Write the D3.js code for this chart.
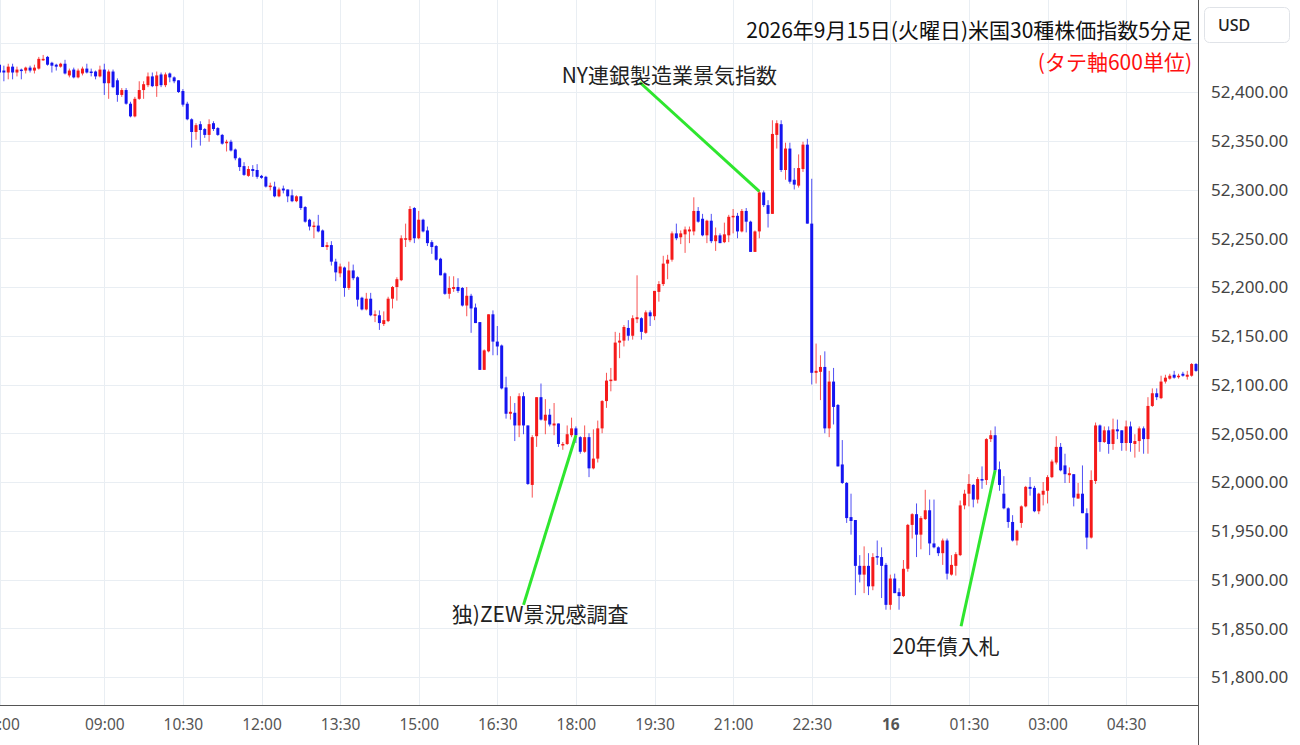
<!DOCTYPE html>
<html><head><meta charset="utf-8">
<script src="https://cdn.jsdelivr.net/npm/d3@7"></script>
<style>body{margin:0;background:#fff;} svg{display:block;}</style>
</head><body>
<svg id="c" width="1300" height="745"></svg>
<script>
// ---- data ----
const startTime = "2026-09-15T07:00:00";
const barMinutes = 5;
const opens = [52428,52422,52420,52426,52420,52423,52422,52425,52422,52424,52433,52436,52430,52428,52426,52429,52417,52423,52415,52419,52424,52421,52421,52416,52423,52409,52421,52412,52397,52402,52388,52375,52393,52402,52407,52416,52406,52418,52407,52419,52415,52412,52401,52388,52372,52359,52367,52362,52356,52368,52363,52356,52348,52349,52341,52332,52324,52314,52321,52320,52314,52313,52303,52303,52293,52301,52300,52294,52288,52293,52282,52269,52262,52263,52258,52241,52243,52226,52214,52220,52199,52217,52210,52189,52177,52188,52171,52171,52162,52165,52188,52200,52207,52249,52248,52281,52250,52269,52258,52246,52242,52229,52214,52193,52198,52200,52199,52181,52191,52179,52164,52115,52134,52172,52144,52140,52097,52070,52071,52058,52088,52058,51997,52047,52087,52063,52069,52058,52060,52038,52039,52048,52055,52046,52031,52046,52014,52024,52055,52083,52104,52104,52143,52145,52158,52150,52167,52168,52153,52174,52170,52195,52203,52224,52228,52255,52251,52254,52257,52257,52278,52270,52253,52268,52247,52253,52246,52253,52272,52273,52257,52278,52267,52236,52257,52297,52284,52275,52356,52367,52320,52342,52310,52304,52321,52346,52265,52112,52113,52118,52055,52103,52079,52018,51999,51964,51961,51914,51905,51914,51893,51924,51923,51915,51874,51901,51887,51883,51911,51956,51967,51946,51962,51971,51937,51933,51927,51940,51905,51914,51925,51976,51988,51997,51982,52003,52002,52044,52048,52013,51988,51973,51959,51940,51958,51975,51995,51994,51970,51987,51991,52005,52020,52036,52017,52007,52008,51983,51988,51968,51943,52001,52058,52041,52053,52039,52054,52053,52040,52057,52039,52042,52055,52044,52078,52091,52086,52103,52106,52110,52108,52111,52108,52109,52121];
const highs = [52440,52427,52429,52429,52426,52424,52426,52427,52428,52436,52438,52437,52431,52429,52430,52433,52424,52425,52424,52426,52429,52424,52422,52427,52429,52423,52423,52414,52404,52404,52390,52395,52411,52411,52420,52420,52421,52420,52420,52420,52416,52412,52403,52390,52373,52368,52370,52363,52372,52370,52364,52357,52351,52351,52342,52333,52328,52324,52325,52326,52315,52314,52307,52308,52302,52304,52300,52300,52294,52293,52283,52270,52267,52274,52259,52246,52247,52229,52224,52221,52226,52223,52211,52190,52194,52194,52176,52176,52175,52190,52201,52210,52253,52265,52283,52282,52278,52270,52262,52248,52243,52230,52215,52211,52211,52209,52200,52200,52193,52183,52164,52136,52172,52176,52160,52141,52108,52088,52081,52091,52092,52058,52048,52087,52101,52085,52075,52081,52060,52041,52058,52066,52057,52047,52058,52050,52054,52063,52084,52112,52117,52154,52153,52161,52166,52171,52212,52169,52176,52176,52196,52206,52232,52233,52257,52265,52258,52262,52262,52292,52282,52275,52269,52275,52261,52255,52266,52274,52280,52276,52280,52281,52268,52258,52299,52299,52289,52371,52371,52371,52348,52348,52322,52336,52349,52352,52311,52142,52130,52134,52114,52117,52080,52043,52000,51988,51961,51925,51934,51927,51927,51940,51933,51917,51905,51906,51891,51920,51957,51968,51978,51965,51992,51982,51982,51934,51942,51942,51925,51928,51981,51992,52008,51998,52005,52016,52045,52053,52057,52021,52006,51974,51966,51951,51976,51996,52005,51996,51989,52000,52007,52023,52047,52040,52029,52015,52008,51999,52017,51973,52012,52061,52059,52057,52057,52065,52064,52053,52063,52062,52049,52057,52057,52087,52096,52096,52109,52110,52111,52114,52111,52113,52114,52122,52122];
const lows = [52415,52411,52413,52413,52416,52413,52419,52420,52419,52423,52432,52427,52420,52422,52425,52418,52415,52414,52414,52417,52419,52416,52413,52415,52397,52393,52404,52390,52395,52387,52374,52374,52392,52393,52405,52405,52395,52405,52405,52410,52409,52399,52385,52371,52343,52351,52345,52353,52349,52360,52355,52346,52339,52339,52330,52319,52314,52313,52313,52311,52311,52302,52299,52292,52292,52296,52287,52287,52287,52279,52266,52258,52250,52256,52241,52238,52222,52206,52210,52190,52197,52207,52180,52176,52176,52170,52164,52156,52160,52164,52178,52186,52206,52241,52246,52245,52249,52256,52242,52234,52227,52212,52192,52188,52195,52194,52180,52170,52153,52163,52115,52115,52133,52130,52130,52095,52065,52064,52042,52046,52049,51997,51984,52036,52063,52049,52057,52048,52036,52033,52038,52046,52040,52029,52030,52005,52013,52020,52050,52076,52093,52104,52127,52139,52145,52146,52163,52146,52152,52160,52166,52185,52201,52208,52226,52248,52244,52235,52245,52253,52266,52252,52245,52245,52237,52245,52245,52246,52255,52250,52256,52256,52236,52236,52250,52282,52261,52275,52342,52318,52310,52306,52300,52302,52318,52265,52100,52101,52084,52050,52046,52059,52016,51998,51958,51946,51884,51897,51886,51884,51889,51915,51881,51869,51869,51886,51869,51882,51908,51942,51923,51931,51961,51925,51932,51924,51915,51900,51904,51904,51924,51972,51975,51974,51978,51993,51997,52041,52012,51991,51972,51953,51939,51935,51953,51974,51986,51969,51967,51976,51978,52004,52018,52011,51999,51999,51975,51983,51968,51931,51942,51998,52031,52040,52029,52033,52044,52032,52032,52031,52025,52031,52029,52029,52077,52084,52085,52101,52105,52106,52106,52108,52105,52108,52113];
const closes = [52420,52420,52426,52420,52423,52422,52425,52422,52425,52434,52434,52428,52427,52426,52429,52419,52422,52415,52422,52424,52420,52420,52416,52423,52409,52421,52405,52397,52402,52388,52375,52393,52402,52408,52416,52406,52417,52407,52418,52415,52411,52400,52387,52372,52359,52366,52361,52356,52367,52362,52356,52347,52349,52340,52332,52323,52315,52321,52319,52313,52312,52303,52304,52293,52300,52299,52293,52288,52293,52281,52267,52262,52263,52257,52241,52243,52226,52215,52221,52199,52217,52209,52187,52177,52188,52171,52172,52163,52166,52188,52200,52208,52250,52250,52280,52250,52269,52257,52245,52241,52228,52212,52193,52199,52200,52196,52181,52191,52178,52163,52115,52135,52172,52144,52139,52096,52070,52072,52058,52088,52058,51998,52046,52087,52064,52069,52059,52060,52039,52039,52049,52055,52048,52031,52046,52014,52024,52055,52083,52104,52105,52143,52145,52159,52150,52168,52169,52154,52174,52170,52196,52203,52224,52228,52255,52250,52255,52259,52259,52278,52267,52253,52268,52247,52253,52245,52254,52272,52273,52257,52278,52267,52236,52257,52297,52284,52275,52357,52368,52320,52342,52308,52305,52322,52346,52265,52112,52114,52118,52055,52103,52077,52016,51999,51963,51960,51914,51905,51914,51893,51923,51923,51914,51874,51901,51886,51883,51911,51956,51967,51946,51963,51971,51937,51933,51927,51940,51906,51915,51926,51976,51988,51998,51982,52003,52002,52044,52048,52012,51997,51973,51959,51940,51950,51975,51995,51993,51970,51988,51991,52005,52021,52036,52012,52008,52009,51984,51988,51968,51943,52002,52058,52041,52053,52039,52054,52052,52040,52057,52040,52042,52055,52044,52078,52091,52087,52103,52107,52109,52107,52109,52109,52110,52121,52114];
const priceTicks = [51800,51850,51900,51950,52000,52050,52100,52150,52200,52250,52300,52350,52400];
const gridPrices = [51750,51800,51850,51900,51950,52000,52050,52100,52150,52200,52250,52300,52350,52400,52450];
const timeTicks = ["2026-09-15T07:00","2026-09-15T09:00","2026-09-15T10:30","2026-09-15T12:00","2026-09-15T13:30","2026-09-15T15:00","2026-09-15T16:30","2026-09-15T18:00","2026-09-15T19:30","2026-09-15T21:00","2026-09-15T22:30","2026-09-16T00:00","2026-09-16T01:30","2026-09-16T03:00","2026-09-16T04:30"];
const timeLabels = ["07:00","09:00","10:30","12:00","13:30","15:00","16:30","18:00","19:30","21:00","22:30","16","01:30","03:00","04:30"];
const titleText = "2026年9月15日(火曜日)米国30種株価指数5分足";
const subtitleText = "(タテ軸600単位)";
const currency = "USD";
// annotation: text, label anchor (bar index, price), line tail (bar index, price), line tip (bar index, price)
const annTexts = ["NY連銀製造業景気指数","独)ZEW景況感調査","20年債入札"];
const annLabelAt = [[153.5,52418],[123.8,51866],[216.9,51833]];
const annTailAt = [[146.7,52410],[120.1,51874],[220.3,51852]];
const annTipAt = [[174,52298],[132.1,52048],[228,52012]];

// ---- layout ----
const W = 1300, H = 745;
const plotRight = 1198, plotBottom = 705;
const svg = d3.select("#c");
const parse = d3.isoParse;
const t0 = parse(startTime);
const times = opens.map((_, i) => d3.timeMinute.offset(t0, i * barMinutes));
const x = d3.scaleTime().domain([times[0], times[times.length - 1]]).range([-0.5, 1196]);
const xi = i => x(d3.timeMinute.offset(t0, i * barMinutes));
const y = d3.scaleLinear().domain([51800, 52400]).range([677, 92]);

const gridColor = "#e9eef3";
const g = svg.append("g");
g.selectAll("line.hg").data(gridPrices).join("line")
  .attr("x1", 0).attr("x2", plotRight).attr("y1", d => Math.round(y(d)) + 0.5).attr("y2", d => Math.round(y(d)) + 0.5)
  .attr("stroke", gridColor).attr("stroke-width", 1);
const tickDates = timeTicks.map(parse);
g.selectAll("line.vg").data(tickDates).join("line")
  .attr("x1", d => Math.round(x(d)) + 0.5).attr("x2", d => Math.round(x(d)) + 0.5)
  .attr("y1", 0).attr("y2", plotBottom)
  .attr("stroke", gridColor).attr("stroke-width", 1);

// candles
const data = opens.map((o, i) => ({t: times[i], o, h: highs[i], l: lows[i], c: closes[i]}));
const up = "#f51a1a", down = "#1515f0";
const cg = svg.append("g");
cg.selectAll("line.w").data(data).join("line")
  .attr("x1", d => x(d.t)).attr("x2", d => x(d.t))
  .attr("y1", d => y(d.h)).attr("y2", d => y(d.l))
  .attr("stroke", d => d.c >= d.o ? up : down).attr("stroke-width", 1).attr("stroke-opacity", 0.75);
cg.selectAll("rect").data(data).join("rect")
  .attr("x", d => x(d.t) - 1.5).attr("width", 3)
  .attr("y", d => y(Math.max(d.o, d.c)))
  .attr("height", d => Math.max(1.5, Math.abs(y(d.o) - y(d.c))))
  .attr("fill", d => d.c >= d.o ? up : down);

// annotations
const green = "#2ee62e";
annTexts.forEach((txt, k) => {
  svg.append("line")
    .attr("x1", xi(annTailAt[k][0])).attr("y1", y(annTailAt[k][1]))
    .attr("x2", xi(annTipAt[k][0])).attr("y2", y(annTipAt[k][1]))
    .attr("stroke", green).attr("stroke-width", 3);
});
annTexts.forEach((txt, k) => {
  svg.append("text").text(txt)
    .attr("x", xi(annLabelAt[k][0])).attr("y", y(annLabelAt[k][1]))
    .attr("text-anchor", "middle").attr("dominant-baseline", "central")
    .attr("font-family", "'Noto Sans CJK JP', 'Noto Sans', sans-serif").attr("font-size", 21)
    .attr("fill", "#222");
});

// title
svg.append("text").text(titleText)
  .attr("x", 1192).attr("y", 29).attr("text-anchor", "end").attr("dominant-baseline", "central")
  .attr("font-family", "'Noto Sans CJK JP', sans-serif").attr("font-size", 21).attr("fill", "#111");
svg.append("text").text(subtitleText)
  .attr("x", 1192).attr("y", 61).attr("text-anchor", "end").attr("dominant-baseline", "central")
  .attr("font-family", "'Noto Sans CJK JP', sans-serif").attr("font-size", 21).attr("fill", "#ff1010");

// axes
svg.append("rect").attr("x", plotRight).attr("y", 0).attr("width", W - plotRight).attr("height", H).attr("fill", "#fff");
svg.append("rect").attr("x", 0).attr("y", plotBottom).attr("width", plotRight).attr("height", H - plotBottom).attr("fill", "#fff");
svg.append("line").attr("x1", plotRight + 0.5).attr("x2", plotRight + 0.5).attr("y1", 0).attr("y2", H)
  .attr("stroke", "#555").attr("stroke-width", 1);
svg.append("line").attr("x1", 0).attr("x2", plotRight).attr("y1", plotBottom + 0.5).attr("y2", plotBottom + 0.5)
  .attr("stroke", "#555").attr("stroke-width", 1);

const yAxis = d3.axisRight(y).tickValues(priceTicks).tickSize(0).tickPadding(0)
  .tickFormat(d => d3.format(",.2f")(d));
const ya = svg.append("g").attr("transform", `translate(${plotRight + 13},0)`).call(yAxis);
ya.select(".domain").remove();
ya.selectAll("text").attr("font-family", "'Noto Sans', sans-serif").attr("font-size", 17).attr("fill", "#444").attr("dy", "0.35em");

const xAxis = d3.axisBottom(x).tickValues(tickDates).tickSize(0).tickPadding(0)
  .tickFormat((d, i) => timeLabels[i]);
const xa = svg.append("g").attr("transform", `translate(0,${plotBottom + 14})`).call(xAxis);
xa.select(".domain").remove();
xa.selectAll("text").attr("font-family", "'Noto Sans', sans-serif").attr("font-size", 15.5).attr("fill", "#555")
  .attr("font-weight", (d, i) => timeLabels[i].length <= 2 ? "bold" : "normal");

// currency box
svg.append("rect").attr("x", 1204.5).attr("y", 7.5).attr("width", 85).attr("height", 35).attr("rx", 5)
  .attr("fill", "#fff").attr("stroke", "#e0e3e8");
svg.append("text").text(currency).attr("x", 1218).attr("y", 25).attr("dominant-baseline", "central")
  .attr("font-family", "'Noto Sans', sans-serif").attr("font-size", 16).attr("font-weight", 500).attr("fill", "#222");
</script>
</body></html>
